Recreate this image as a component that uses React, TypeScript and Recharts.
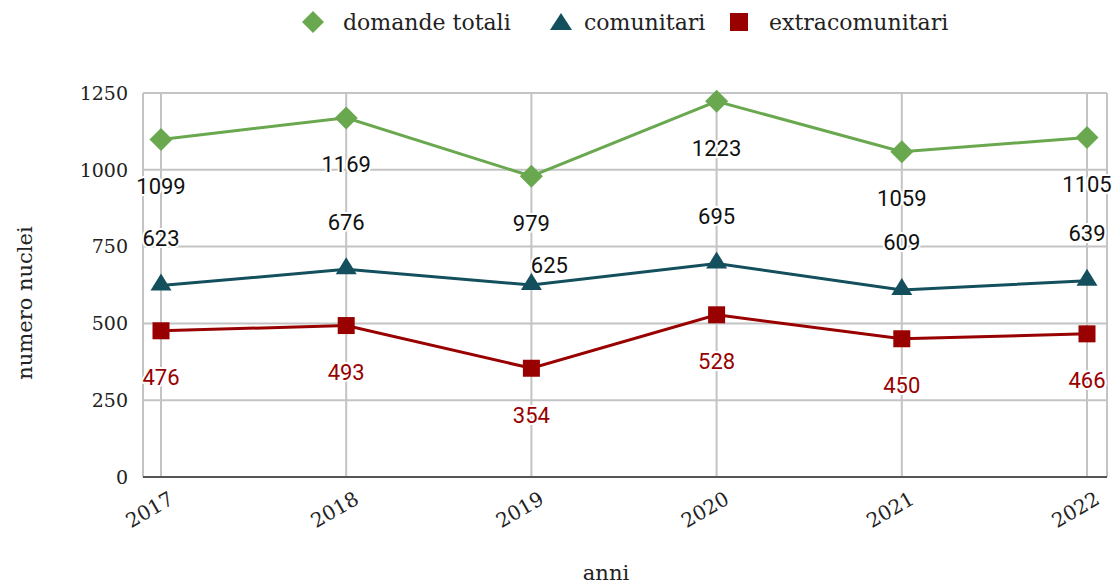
import {
  LineChart,
  Line,
  XAxis,
  YAxis,
  CartesianGrid,
  Legend,
  LabelList,
} from "recharts"

const anni = ["2017", "2018", "2019", "2020", "2021", "2022"]
const domandeTotali = [1099, 1169, 979, 1223, 1059, 1105]
const comunitari = [623, 676, 625, 695, 609, 639]
const extracomunitari = [476, 493, 354, 528, 450, 466]
const yTicks = [0, 250, 500, 750, 1000, 1250]

const GREEN = "#6aa84f"
const TEAL = "#134f5c"
const RED = "#990000"
const SERIF = "'DejaVu Serif', serif"

const data = anni.map((anno, i) => ({
  anno,
  totali: domandeTotali[i],
  comunitari: comunitari[i],
  extra: extracomunitari[i],
}))

// marker shapes
const Diamond = ({ cx, cy }: any) => (
  <path d={`M${cx},${cy - 11.5}L${cx + 11.5},${cy}L${cx},${cy + 11.5}L${cx - 11.5},${cy}Z`} fill={GREEN} />
)
const Triangle = ({ cx, cy }: any) => (
  <path d={`M${cx},${cy - 12}L${cx + 10.5},${cy + 5}L${cx - 10.5},${cy + 5}Z`} fill={TEAL} />
)
const Square = ({ cx, cy }: any) => (
  <rect x={cx - 8.5} y={cy - 8.5} width={17} height={17} fill={RED} />
)

const makeLabel = (dy: number, color: string, shiftIndex = -1) => (props: any) => {
  const { x, y, value, index } = props
  let ox = 0
  let oy = dy
  // Google Charts nudged this one sideways to avoid the other label
  if (index === shiftIndex) {
    ox = 18
    oy = -20
  }
  return (
    <text
      x={x + ox}
      y={y + oy}
      textAnchor="middle"
      dominantBaseline="central"
      fill={color}
      stroke="#fff"
      strokeWidth={4}
      strokeLinejoin="round"
      paintOrder="stroke"
      fontFamily="Roboto"
      fontSize={22}
    >
      {value}
    </text>
  )
}

const XTick = ({ x, y, payload }: any) => {
  const tx = x + 14
  const ty = y + 18
  return (
    <text
      x={tx}
      y={ty}
      textAnchor="end"
      transform={`rotate(-30, ${tx}, ${ty})`}
      fill="#222"
      fontFamily={SERIF}
      fontSize={20}
    >
      {payload.value}
    </text>
  )
}

const legendItems = [
  { name: "domande totali", left: 302, icon: "diamond" },
  { name: "comunitari", left: 550, icon: "triangle" },
  { name: "extracomunitari", left: 728, icon: "square" },
]

const LegendIcon = ({ type }: { type: string }) => (
  <svg width={22} height={22} style={{ display: "block" }}>
    {type === "diamond" && <path d="M11,0L22,11L11,22L0,11Z" fill={GREEN} />}
    {type === "triangle" && <path d="M11,2L22,19L0,19Z" fill={TEAL} />}
    {type === "square" && <rect x={2} y={2} width={18} height={18} fill={RED} />}
  </svg>
)

const renderLegend = () => (
  <div style={{ position: "relative", height: 44, fontFamily: SERIF, fontSize: 22, color: "#222" }}>
    {legendItems.map((item) => (
      <div
        key={item.name}
        style={{
          position: "absolute",
          left: item.left,
          top: 0,
          height: 44,
          display: "flex",
          alignItems: "center",
          whiteSpace: "nowrap",
        }}
      >
        <LegendIcon type={item.icon} />
        <span style={{ marginLeft: item.icon === "triangle" ? 12 : 19 }}>{item.name}</span>
      </div>
    ))}
  </div>
)

export default function App() {
  return (
    <div style={{ position: "absolute", left: 0, top: 0, width: 1116, height: 587, background: "#fff" }}>
      <LineChart
        width={1116}
        height={587}
        data={data}
        margin={{ top: 49, right: 9, bottom: 30, left: 83 }}
      >
        <CartesianGrid stroke="#c4c4c4" strokeWidth={2} />
        <XAxis
          dataKey="anno"
          padding={{ left: 18, right: 20 }}
          height={80}
          tickLine={false}
          axisLine={{ stroke: "#555", strokeWidth: 2 }}
          tick={<XTick />}
          interval={0}
          label={({ viewBox }: any) => (
            <text
              x={viewBox.x + viewBox.width / 2 - 19}
              y={580}
              textAnchor="middle"
              fill="#222"
              fontFamily={SERIF}
              fontSize={21}
            >
              anni
            </text>
          )}
        />
        <YAxis
          width={60}
          domain={[0, 1250]}
          ticks={yTicks}
          axisLine={false}
          tickLine={false}
          tickMargin={9}
          tick={{ fill: "#222", fontFamily: SERIF, fontSize: 19 }}
          label={() => (
            <text
              x={25}
              y={303}
              transform="rotate(-90, 25, 303)"
              textAnchor="middle"
              dominantBaseline="central"
              fill="#222"
              fontFamily={SERIF}
              fontSize={21}
            >
              numero nuclei
            </text>
          )}
        />
        <Legend
          verticalAlign="top"
          content={renderLegend}
          wrapperStyle={{ top: 0, left: 0, width: 1116, height: 44 }}
        />
        <Line
          dataKey="totali"
          name="domande totali"
          stroke={GREEN}
          strokeWidth={3}
          dot={<Diamond />}
          activeDot={false}
          isAnimationActive={false}
        >
          <LabelList dataKey="totali" content={makeLabel(47, "#111")} />
        </Line>
        <Line
          dataKey="comunitari"
          name="comunitari"
          stroke={TEAL}
          strokeWidth={3}
          dot={<Triangle />}
          activeDot={false}
          isAnimationActive={false}
        >
          <LabelList dataKey="comunitari" content={makeLabel(-47, "#111", 2)} />
        </Line>
        <Line
          dataKey="extra"
          name="extracomunitari"
          stroke={RED}
          strokeWidth={3}
          dot={<Square />}
          activeDot={false}
          isAnimationActive={false}
        >
          <LabelList dataKey="extra" content={makeLabel(47, RED)} />
        </Line>
      </LineChart>
    </div>
  )
}
